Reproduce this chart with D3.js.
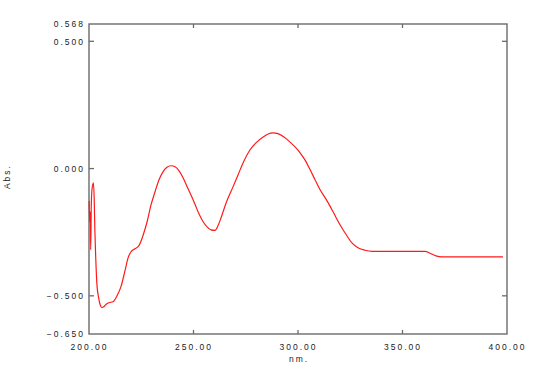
<!DOCTYPE html>
<html>
<head>
<meta charset="utf-8">
<script src="https://cdn.jsdelivr.net/npm/d3@7"></script>
<style>
  body { margin: 0; background: #fff; }
  svg text { font-family: "Liberation Sans", Arial, sans-serif; font-size: 8.5px; fill: #222; letter-spacing: 2px; }
</style>
</head>
<body>
<div class="svg-container"></div>
<script>
// page and plot box
var pageWidth = 538,
	pageHeight = 369,
	margin = { top: 24, right: 31, bottom: 35, left: 89 },
	width = pageWidth - margin.left - margin.right,
	height = pageHeight - margin.top - margin.bottom;

// x axis (nm)
var minX = 200, maxX = 400;
var xTicks = [200, 250, 300, 350, 400];
var xInnerTicks = [250, 300, 350];

// y axis (Abs.)
var minY = -0.650, maxY = 0.568;
var yTicks = [0.568, 0.5, 0, -0.5, -0.65];
var yInnerTicks = [0.5, 0, -0.5];

// spectrum
var wavelength = [
	200.1, 200.3, 200.6, 200.8, 201.1, 201.4, 202.1, 202.5, 202.8, 203.2,
	203.8, 204.6, 205.3, 206.2, 207.2, 208.1, 209.6, 211.5, 213.4, 215.3,
	217.2, 218.7, 220.1, 222.0, 223.9, 225.8, 227.8, 229.7, 231.6, 233.5,
	235.4, 237.3, 239.2, 241.2, 243.1, 245.0, 246.9, 248.8, 250.7, 252.6,
	254.6, 256.5, 258.4, 260.3, 261.7, 263.2, 265.6, 268.9, 271.3, 273.7,
	277.0, 280.4, 283.3, 285.7, 288.0, 290.4, 293.3, 296.2, 298.6, 301.0,
	303.4, 305.7, 308.1, 310.5, 313.9, 316.8, 320.1, 323.4, 325.8, 328.7,
	332.1, 335.4, 348.8, 360.8, 363.2, 366.0, 368.9, 382.3, 398.1
];
var absorbance = [
	-0.127, -0.209, -0.170, -0.319, -0.142, -0.084, -0.056, -0.123, -0.240, -0.346,
	-0.456, -0.507, -0.534, -0.546, -0.542, -0.534, -0.527, -0.523, -0.500, -0.464,
	-0.402, -0.351, -0.327, -0.315, -0.303, -0.264, -0.209, -0.142, -0.091, -0.044,
	-0.013, 0.005, 0.011, 0.007, -0.009, -0.036, -0.070, -0.104, -0.140, -0.178,
	-0.209, -0.229, -0.241, -0.243, -0.225, -0.193, -0.135, -0.072, -0.025, 0.022,
	0.073, 0.105, 0.124, 0.136, 0.140, 0.137, 0.124, 0.104, 0.085, 0.062,
	0.033, -0.003, -0.043, -0.082, -0.127, -0.170, -0.221, -0.264, -0.292, -0.311,
	-0.321, -0.325, -0.325, -0.325, -0.333, -0.343, -0.347, -0.347, -0.347
];

function plot() {
	var svg = d3.select(".svg-container")
	.append("svg")
	.attr("width", pageWidth)
	.attr("height", pageHeight)
	.append("g")
	.attr("transform", "translate(" + margin.left + "," + margin.top + ")");

	var xScale = d3.scaleLinear().range([0, width]).domain([minX, maxX]);
	var yScale = d3.scaleLinear().range([height, 0]).domain([minY, maxY]);

	drawAxes(svg, xScale, yScale);
	drawLine(svg, xScale, yScale);
}

function drawAxes(svg, x, y) {
	// labels only
	var xAxis = d3.axisBottom(x).tickValues(xTicks).tickSize(0).tickPadding(10).tickFormat(d3.format(".2f"));
	var yAxis = d3.axisLeft(y).tickValues(yTicks).tickSize(0).tickPadding(4).tickFormat(d3.format(".3f"));

	var gx = svg.append("g")
	.attr("transform", "translate(0," + height + ")")
	.call(xAxis);
	var gy = svg.append("g")
	.call(yAxis);
	gx.select(".domain").remove();
	gy.select(".domain").remove();
	gx.selectAll("text").style("font-size", null).style("font-family", null);
	gy.selectAll("text").style("font-size", null).style("font-family", null);
	svg.selectAll(".tick text").attr("fill", "#222");

	// inward ticks on all four sides
	var tickColor = "#6b6b6b";
	xInnerTicks.forEach(function(v) {
		svg.append("line").attr("x1", x(v)).attr("x2", x(v)).attr("y1", height).attr("y2", height - 4)
		.attr("stroke", tickColor).attr("stroke-width", 1.3);
		svg.append("line").attr("x1", x(v)).attr("x2", x(v)).attr("y1", 0).attr("y2", 4)
		.attr("stroke", tickColor).attr("stroke-width", 1.3);
	});
	yInnerTicks.forEach(function(v) {
		svg.append("line").attr("x1", 0).attr("x2", 5).attr("y1", y(v)).attr("y2", y(v))
		.attr("stroke", tickColor).attr("stroke-width", 1.3);
		if (v != 0) {
			svg.append("line").attr("x1", width).attr("x2", width - 5).attr("y1", y(v)).attr("y2", y(v))
			.attr("stroke", tickColor).attr("stroke-width", 1.3);
		}
	});

	// frame
	svg.append("rect")
	.attr("x", 0).attr("y", 0)
	.attr("width", width).attr("height", height)
	.attr("fill", "none")
	.attr("stroke", tickColor)
	.attr("stroke-width", 1.4);

	svg.append("text")
	.attr("x", width / 2 + 1)
	.attr("y", height + 28)
	.attr("text-anchor", "middle")
	.text("nm.");

	svg.append("text")
	.attr("transform", "translate(" + (-79) + "," + (y(0) + 8) + ") rotate(-90)")
	.attr("text-anchor", "middle")
	.text("Abs.");
}

function drawLine(svg, x, y) {
	var data = wavelength.map(function(w, i) { return { nm: w, abs: absorbance[i] }; });

	var line = d3.line()
	.x(function(d) { return x(d.nm); })
	.y(function(d) { return y(d.abs); })
	.curve(d3.curveMonotoneX);

	svg.append("path")
	.datum(data)
	.attr("fill", "none")
	.attr("stroke", "#ff1a1a")
	.attr("stroke-width", 1.2)
	.attr("d", line);
}

plot();
</script>
</body>
</html>
